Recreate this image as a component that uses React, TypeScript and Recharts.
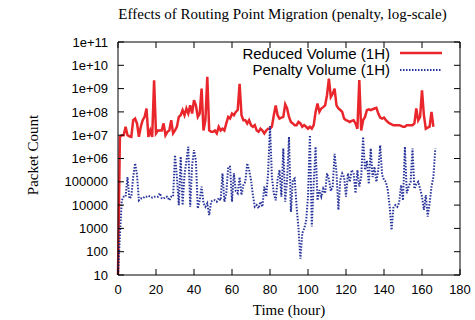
import React from 'react';
import { LineChart, Line, XAxis, YAxis, Legend } from 'recharts';

// hourly samples, index = hour
const reducedVolume = [
  10, 8.5e6, 1e7, 1e7, 2.3e7, 1e7, 9e6, 8.5e6, 4.4e7, 5.2e7,
  3.2e7, 8.5e6, 2.3e7, 4.4e7, 6.1e7, 1.4e8, 8.5e6, 1.6e7, 8.5e6, 2.3e9,
  1.2e7, 1.6e7, 1.6e7, 1.6e7, 3.2e7, 1e7, 1.4e7, 1.6e7, 4.4e7, 1.2e7,
  1.6e7, 2.3e7, 6.1e7, 7.2e7, 1.2e8, 7.2e7, 1.4e8, 8.5e7, 1.9e8, 8.5e7,
  3.2e8, 1.9e8, 6.1e7, 8.5e7, 1e9, 1.6e7, 4.4e7, 3.2e9, 1.6e7, 1.4e7,
  1.4e7, 1.6e7, 1.2e7, 2.3e7, 1.6e7, 1.9e7, 1.6e7, 3.2e7, 6.1e7, 5.2e7,
  8.5e7, 7.2e7, 1e8, 1.2e8, 1.6e9, 7.2e7, 4.4e7, 4.4e7, 3.2e7, 4.4e7,
  2.7e7, 2.3e7, 2.7e7, 1.6e7, 1.4e7, 1.9e7, 1.6e7, 1.2e7, 1.6e7, 1.9e7,
  1.9e7, 2.3e7, 7.2e7, 1.9e8, 7.2e7, 5.2e7, 5.7e7, 6.1e7, 2.1e8, 1.4e8,
  6.1e7, 3.7e7, 3.2e7, 2.7e7, 2.7e7, 3.7e7, 3.2e7, 2.3e7, 2.7e7, 2.3e7,
  1.9e7, 2.3e7, 1.9e7, 2.7e7, 1e8, 2.3e8, 1e8, 1.4e8, 1.6e8, 1.9e8,
  5.2e8, 2.7e9, 4.4e8, 6.1e8, 1e9, 1.9e8, 1.4e8, 1.2e8, 1e8, 5.2e7,
  4.4e7, 4.1e7, 3.7e7, 4.1e7, 4.4e7, 3.2e7, 1.9e7, 2.3e9, 1.6e7, 4.4e7,
  6.1e7, 1.2e8, 1.3e8, 1.2e8, 1.3e8, 1.4e8, 1.5e8, 8.5e7, 5.7e7, 5.2e7,
  5.7e7, 4.4e7, 3.7e7, 3.2e7, 2.9e7, 2.7e7, 2.7e7, 2.7e7, 2.7e7, 2.5e7,
  2.3e7, 2.3e7, 2.7e7, 2.7e7, 2.7e7, 2.7e7, 3.2e7, 1.4e8, 4.4e7, 6.1e7,
  8.5e8, 7.2e7, 1.9e7, 2.1e7, 2.3e7, 1e8, 2.3e7,
];

const penaltyVolume = [
  10, 500, 1.6e4, 2.3e4, 2.3e4, 1.6e5, 1.9e4, 2.3e4, 1.6e5, 6.2e5,
  2e5, 1.6e4, 1.9e4, 1.9e4, 2.3e4, 2.3e4, 2.5e4, 2.3e4, 2.1e4, 2.3e4,
  2.3e4, 2.3e4, 3.2e4, 2e4, 1.9e4, 2.3e4, 2.3e4, 1.6e4, 2.3e4, 2.3e4,
  1.4e6, 1.6e5, 1e4, 1.2e6, 1e4, 2e5, 8e5, 3.2e6, 8.5e3, 5e5,
  2.3e6, 8e5, 7.2e3, 1.6e4, 6.2e4, 1.2e4, 8.5e3, 1.2e4, 3.7e3, 1.4e4,
  1.6e4, 1.6e4, 1.4e4, 2e4, 1.6e4, 2.3e5, 1.4e4, 3.2e4, 4.4e5, 4.4e5,
  1.4e4, 2.3e5, 4e4, 3.2e4, 1.6e5, 2.7e4, 7.2e4, 1e5, 6.2e5, 3.2e5,
  1.2e5, 2.7e4, 8.5e3, 1e4, 7.2e3, 1.4e4, 8.5e3, 6.2e4, 2.3e4, 2.3e5,
  2.5e7, 1.6e5, 3.2e4, 1.6e4, 1.2e5, 3.2e5, 2.3e4, 2.7e6, 1.4e4, 1.2e5,
  8.5e6, 5.1e3, 1.2e5, 1.4e5, 8.5e3, 1000, 50, 630, 1000, 2000,
  2.3e4, 1e7, 1200, 8.5e4, 3.2e6, 1.6e4, 4.4e4, 2.3e4, 5e4, 3.2e4,
  2.3e5, 1.3e5, 4e4, 6.3e4, 1.6e6, 2.5e5, 6.2e3, 1.2e5, 2.3e5, 1.6e5,
  2.3e4, 2.3e5, 1e5, 3.2e5, 2.3e5, 3.2e4, 3.2e5, 6.3e4, 1.6e5, 8.5e6,
  3.2e5, 8e5, 8e4, 2.7e6, 1.6e5, 4.4e5, 1e5, 3.2e5, 3.7e6, 2e5,
  1.2e5, 1e5, 4.4e4, 8.5e3, 850, 8.5e3, 1e4, 8.5e3, 1.3e4, 7.2e4,
  1.6e4, 3.2e6, 3.2e4, 6.2e4, 1e5, 2.7e6, 5e4, 8e4, 1e5, 5.1e4,
  2.3e4, 6.2e3, 2.7e4, 3.2e3, 1.2e4, 6.2e4, 1.6e5, 2.7e6,
];

const xTicks = [0, 20, 40, 60, 80, 100, 120, 140, 160, 180];
const yTicks = [10, 100, 1000, 1e4, 1e5, 1e6, 1e7, 1e8, 1e9, 1e10, 1e11];
const yTickLabels = ['10', '100', '1000', '10000', '100000', '1e+06', '1e+07', '1e+08', '1e+09', '1e+10', '1e+11'];

const table = penaltyVolume.map((p, i) => ({ hour: i, reduced: reducedVolume[i], penalty: p }));

const seriesOrder = ['reduced', 'penalty'];
const seriesStyle: Record<string, { stroke: string; width: number; dash?: string }> = {
  reduced: { stroke: '#e8262b', width: 2.5 },
  penalty: { stroke: '#28349a', width: 2, dash: '1.5 1.5' },
};

const sans = '"Liberation Sans", Arial, sans-serif';
const serif = '"Liberation Serif", "Times New Roman", serif';
const tickStyle = { fontSize: 13, fill: '#000', fontFamily: sans };
const yLabel = (v: number) => yTickLabels[yTicks.indexOf(v)] ?? '';

const LegendBox = ({ payload }: any) => {
  const items = [...(payload || [])].sort(
    (a: any, b: any) => seriesOrder.indexOf(a.dataKey) - seriesOrder.indexOf(b.dataKey)
  );
  return (
    <div style={{ fontFamily: sans, fontSize: 15, color: '#000' }}>
      {items.map((entry: any) => {
        const s = seriesStyle[entry.dataKey];
        return (
          <div key={entry.dataKey} style={{ display: 'flex', alignItems: 'center', justifyContent: 'flex-end', height: 16.5 }}>
            <span>{entry.value}</span>
            <svg width={42} height={6} style={{ marginLeft: 10 }}>
              <line x1={0} y1={3} x2={42} y2={3} stroke={s.stroke} strokeWidth={s.width} strokeDasharray={s.dash} />
            </svg>
          </div>
        );
      })}
    </div>
  );
};

export default function App() {
  return (
    <div style={{ position: 'absolute', left: 0, top: 0, width: 475, height: 320, background: '#fff' }}>
      <div style={{ position: 'absolute', left: 282.5, top: 6, transform: 'translateX(-50%)', whiteSpace: 'nowrap', fontFamily: serif, fontSize: 15 }}>
        Effects of Routing Point Migration (penalty, log-scale)
      </div>
      <div style={{ position: 'absolute', left: 289, top: 302, transform: 'translateX(-50%)', whiteSpace: 'nowrap', fontFamily: serif, fontSize: 15 }}>
        Time (hour)
      </div>
      <div style={{ position: 'absolute', left: 33, top: 155, transform: 'translate(-50%, -50%) rotate(-90deg)', whiteSpace: 'nowrap', fontFamily: serif, fontSize: 15 }}>
        Packet Count
      </div>
      <LineChart width={475} height={320} data={table} margin={{ top: 41, right: 14, bottom: 15, left: 0 }}>
        <XAxis
          xAxisId="bottom"
          dataKey="hour"
          type="number"
          domain={[0, 180]}
          ticks={xTicks}
          height={30}
          tickSize={-6}
          tickMargin={16}
          tick={tickStyle}
          stroke="#000"
          interval={0}
        />
        <XAxis
          xAxisId="top"
          orientation="top"
          dataKey="hour"
          type="number"
          domain={[0, 180]}
          ticks={xTicks}
          height={1}
          tickSize={-6}
          tickFormatter={() => ''}
          stroke="#000"
          interval={0}
        />
        <YAxis
          yAxisId="left"
          scale="log"
          domain={[10, 1e11]}
          ticks={yTicks}
          width={118}
          tickSize={-6}
          tickMargin={16}
          tick={tickStyle}
          tickFormatter={yLabel}
          stroke="#000"
          interval={0}
          allowDataOverflow
        />
        <YAxis
          yAxisId="right"
          orientation="right"
          scale="log"
          domain={[10, 1e11]}
          ticks={yTicks}
          width={1}
          tickSize={-6}
          tickFormatter={() => ''}
          stroke="#000"
          interval={0}
          allowDataOverflow
        />
        <Legend
          layout="vertical"
          align="center"
          verticalAlign="middle"
          wrapperStyle={{ top: 45, left: 200, width: 242 }}
          content={<LegendBox />}
        />
        <Line
          xAxisId="bottom"
          yAxisId="left"
          type="linear"
          dataKey="reduced"
          name="Reduced Volume (1H)"
          stroke={seriesStyle.reduced.stroke}
          strokeWidth={seriesStyle.reduced.width}
          dot={false}
          isAnimationActive={false}
        />
        <Line
          xAxisId="bottom"
          yAxisId="left"
          type="linear"
          dataKey="penalty"
          name="Penalty Volume (1H)"
          stroke={seriesStyle.penalty.stroke}
          strokeWidth={seriesStyle.penalty.width}
          strokeDasharray={seriesStyle.penalty.dash}
          dot={false}
          isAnimationActive={false}
        />
      </LineChart>
    </div>
  );
}
